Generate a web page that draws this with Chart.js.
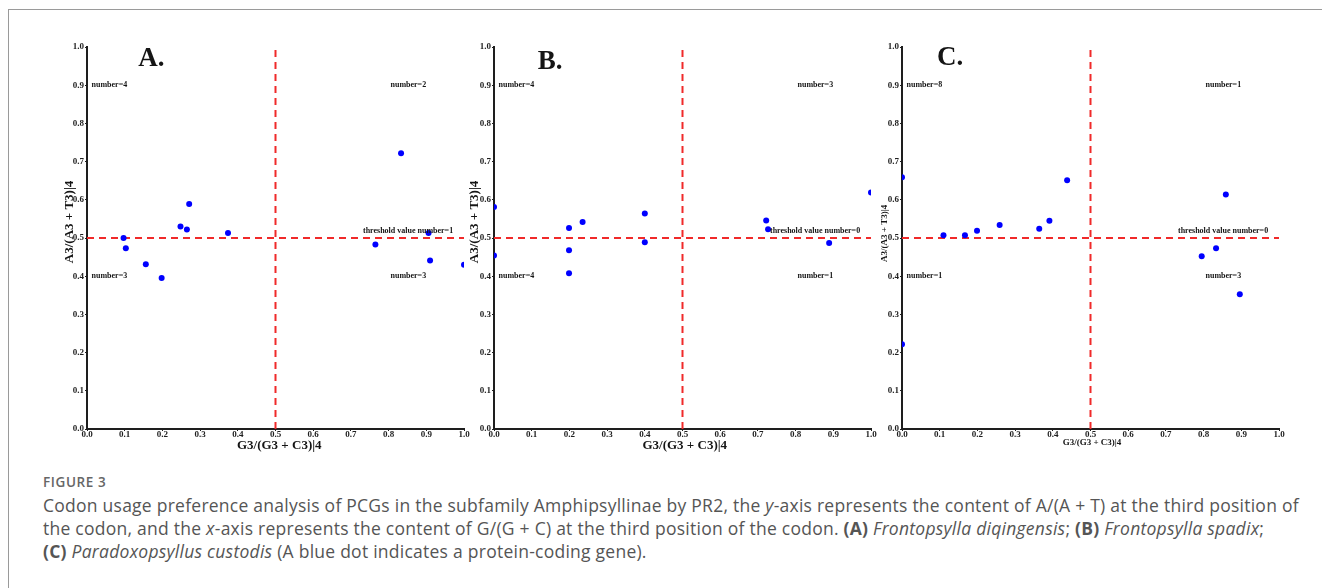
<!DOCTYPE html>
<html>
<head>
<meta charset="utf-8">
<script src="https://cdn.jsdelivr.net/npm/chart.js@4"></script>
<style>
  html, body { margin: 0; padding: 0; background: #fff; }
  body { width: 1322px; height: 588px; position: relative; overflow: hidden; }
  .frame {
    position: absolute; left: 8px; top: 9px; right: 0; bottom: 0;
    border-left: 1px solid #9a9a9a; border-top: 1px solid #9a9a9a;
  }
  canvas { position: absolute; top: 30px; }
  #chartA { left: 40px; }
  #chartB { left: 447px; }
  #chartC { left: 855px; }
  .caption {
    position: absolute; left: 43px; top: 471px; width: 1279px;
    font-family: "Open Sans", sans-serif; color: #555;
  }
  .caption .fig { font-size: 13.5px; font-weight: 600; letter-spacing: 0.6px; line-height: 22px; color: #666; }
  .caption p { margin: 1px 0 0 0; font-size: 17.5px; letter-spacing: 0.25px; line-height: 23px; white-space: nowrap; }
  .caption b { font-weight: 700; }
</style>
</head>
<body>
<div class="frame"></div>
<canvas id="chartA" width="440" height="430"></canvas>
<canvas id="chartB" width="440" height="430"></canvas>
<canvas id="chartC" width="440" height="430"></canvas>
<div class="caption">
  <div class="fig">FIGURE 3</div>
  <p>Codon usage preference analysis of PCGs in the subfamily Amphipsyllinae by PR2, the <i>y</i>-axis represents the content of A/(A + T) at the third position of<br>the codon, and the <i>x</i>-axis represents the content of G/(G + C) at the third position of the codon. <b>(A)</b> <i>Frontopsylla diqingensis</i>; <b>(B)</b> <i>Frontopsylla spadix</i>;<br><b>(C)</b> <i>Paradoxopsyllus custodis</i> (A blue dot indicates a protein-coding gene).</p>
</div>

<script>
'use strict';

// tick values shared by both axes of every panel
const tickValues = [0.0, 0.1, 0.2, 0.3, 0.4, 0.5, 0.6, 0.7, 0.8, 0.9, 1.0];
const threshold = 0.5;

// (A) Frontopsylla diqingensis: G3/(G3+C3) and A3/(A3+T3)
const gcA = [0.097, 0.103, 0.156, 0.198, 0.248, 0.265, 0.271, 0.374, 0.765, 0.833, 0.906, 0.910, 1.000];
const atA = [0.500, 0.473, 0.431, 0.395, 0.530, 0.522, 0.589, 0.513, 0.483, 0.722, 0.513, 0.441, 0.430];
const countsA = ['number=4', 'number=2', 'number=3', 'number=3'];
const thresholdA = 'threshold value number=1';

// (B) Frontopsylla spadix
const gcB = [0.000, 0.000, 0.199, 0.199, 0.199, 0.235, 0.400, 0.400, 0.722, 0.727, 0.889, 1.000];
const atB = [0.581, 0.454, 0.526, 0.468, 0.408, 0.542, 0.564, 0.489, 0.546, 0.523, 0.487, 0.619];
const countsB = ['number=4', 'number=3', 'number=4', 'number=1'];
const thresholdB = 'threshold value number=0';

// (C) Paradoxopsyllus custodis
const gcC = [0.000, 0.000, 0.110, 0.167, 0.199, 0.259, 0.364, 0.391, 0.438, 0.795, 0.833, 0.859, 0.896];
const atC = [0.659, 0.222, 0.507, 0.507, 0.519, 0.534, 0.524, 0.545, 0.651, 0.452, 0.473, 0.614, 0.353];
const countsC = ['number=8', 'number=1', 'number=1', 'number=3'];
const thresholdC = 'threshold value number=0';

const xTitle = 'G3/(G3 + C3)|4';
const yTitle = 'A3/(A3 + T3)|4';

const SERIF = '"Liberation Serif", "Times New Roman", serif';

function toPoints(xs, ys) {
  return xs.map(function (x, i) { return { x: x, y: ys[i] }; });
}

// letters, quadrant counts and axis titles drawn at scale positions
const panelText = {
  id: 'panelText',
  afterDraw(chart, args, o) {
    const ctx = chart.ctx;
    const xs = chart.scales.x;
    const ys = chart.scales.y;
    const area = chart.chartArea;
    ctx.save();
    ctx.fillStyle = '#151515';
    ctx.textBaseline = 'middle';

    ctx.textAlign = 'left';
    ctx.font = 'bold 27px ' + SERIF;
    ctx.fillText(o.letter, xs.getPixelForValue(o.letterAt[0]), ys.getPixelForValue(o.letterAt[1]));

    ctx.font = 'bold 8px ' + SERIF;
    const qx = [0.012, 0.805, 0.012, 0.805];
    const qy = [0.9, 0.9, 0.4, 0.4];
    o.counts.forEach(function (t, i) {
      ctx.fillText(t, xs.getPixelForValue(qx[i]), ys.getPixelForValue(qy[i]));
    });
    ctx.fillText(o.threshold, xs.getPixelForValue(0.732), ys.getPixelForValue(0.518));

    ctx.textAlign = 'center';
    ctx.font = 'bold ' + o.titleSize + 'px ' + SERIF;
    ctx.fillText(xTitle, xs.getPixelForValue(o.xTitleAt), area.bottom + o.xTitleGap);

    ctx.translate(area.left - o.yTitleGap, ys.getPixelForValue(o.yTitleAt));
    ctx.rotate(-Math.PI / 2);
    ctx.fillText(yTitle, 0, 0);
    ctx.restore();
  }
};

function axis(isX) {
  return {
    type: 'linear',
    min: 0,
    max: 1,
    afterBuildTicks: function (scale) {
      scale.ticks = tickValues.map(function (v) { return { value: v }; });
    },
    afterFit: function (scale) {
      if (isX) scale.height = 31; else scale.width = 47;
    },
    border: { display: true, color: '#1e1e1e', width: 2 },
    grid: { drawOnChartArea: false, drawTicks: true, tickLength: 2, color: '#1e1e1e' },
    ticks: {
      color: '#1e1e1e',
      padding: isX ? -2 : 1,
      autoSkip: false,
      maxRotation: 0,
      font: { family: SERIF, weight: 'bold', size: 9 },
      callback: function (v) { return Number(v).toFixed(1); }
    }
  };
}

function makePanel(id, gc, at, opts) {
  const ctx = document.getElementById(id).getContext('2d');
  return new Chart(ctx, {
    type: 'scatter',
    data: {
      datasets: [
        {
          data: toPoints(gc, at),
          backgroundColor: '#0000ff',
          borderColor: '#0000ff',
          pointRadius: 3,
          borderWidth: 0,
          clip: 0,
          order: 0
        },
        {
          data: [{ x: threshold, y: 0 }, { x: threshold, y: 1 }],
          showLine: true,
          borderColor: '#f02a2a',
          borderWidth: 2,
          borderDash: [7, 5],
          pointRadius: 0,
          order: 1
        },
        {
          data: [{ x: 0, y: threshold }, { x: 1, y: threshold }],
          showLine: true,
          borderColor: '#f02a2a',
          borderWidth: 2,
          borderDash: [7, 5],
          pointRadius: 0,
          order: 1
        }
      ]
    },
    options: {
      responsive: false,
      animation: false,
      layout: { padding: { top: 17, right: 16, left: 0, bottom: 0 } },
      plugins: {
        legend: { display: false },
        tooltip: { enabled: false },
        panelText: opts
      },
      scales: { x: axis(true), y: axis(false) }
    },
    plugins: [panelText]
  });
}

makePanel('chartA', gcA, atA, {
  letter: 'A.', letterAt: [0.136, 0.969], counts: countsA, threshold: thresholdA,
  titleSize: 13, xTitleAt: 0.51, xTitleGap: 17, yTitleAt: 0.542, yTitleGap: 17
});
makePanel('chartB', gcB, atB, {
  letter: 'B.', letterAt: [0.116, 0.961], counts: countsB, threshold: thresholdB,
  titleSize: 13, xTitleAt: 0.506, xTitleGap: 17, yTitleAt: 0.542, yTitleGap: 19
});
makePanel('chartC', gcC, atC, {
  letter: 'C.', letterAt: [0.093, 0.972], counts: countsC, threshold: thresholdC,
  titleSize: 9, xTitleAt: 0.504, xTitleGap: 14, yTitleAt: 0.512, yTitleGap: 17
});
</script>
</body>
</html>
